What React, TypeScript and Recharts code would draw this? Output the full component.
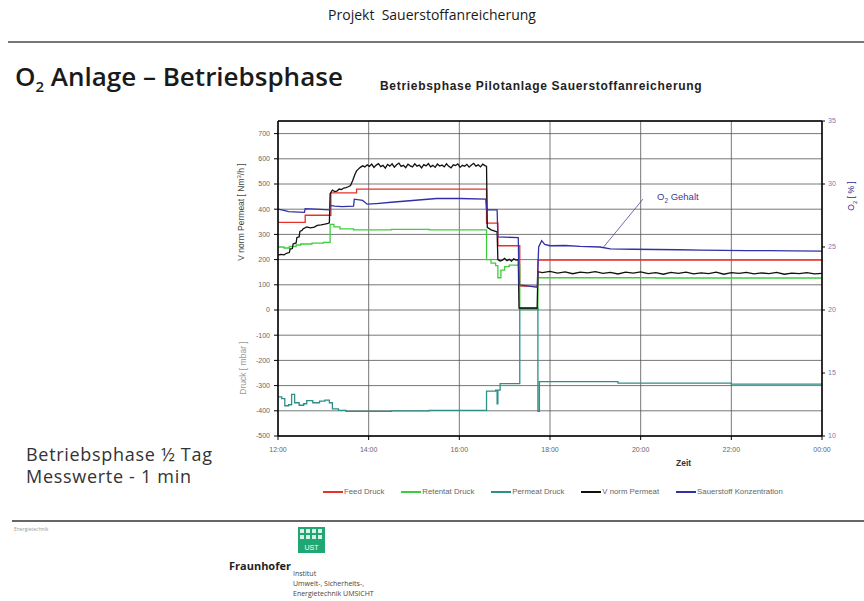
import React from 'react';
import {
  ComposedChart,
  Line,
  XAxis,
  YAxis,
  CartesianGrid,
  ReferenceLine,
} from 'recharts';

// time axis in minutes after 12:00
const zeitTicks = [0, 120, 240, 360, 480, 600, 720];
const zeitLabels = ['12:00', '14:00', '16:00', '18:00', '20:00', '22:00', '00:00'];
const druckTicks = [-500, -400, -300, -200, -100, 0, 100, 200, 300, 400, 500, 600, 700];
const o2Ticks = [10, 15, 20, 25, 30, 35];

// [minute, mbar]
const feedDruck = [
  [0, 348], [36, 376], [70, 465], [104, 480], [276, 345], [291, 255],
  [320, 95], [344, 198], [720, 196],
];

const retentatDruck = [
  [0, 250], [8, 246], [15, 252], [24, 258], [30, 262], [45, 265], [60, 268],
  [69, 340], [74, 330], [82, 322], [100, 318], [150, 320], [200, 318],
  [276, 200], [282, 186], [288, 176], [291, 128], [295, 158], [300, 172],
  [306, 178], [320, 2], [344, 128], [500, 127], [720, 127],
];

const permeatDruck = [
  [0, -345], [5, -352], [9, -380], [14, -376], [18, -335], [22, -368],
  [28, -378], [34, -372], [38, -360], [46, -368], [55, -362], [62, -358],
  [68, -368], [72, -392], [80, -398], [90, -402], [150, -400], [200, -398],
  [276, -322], [288, -318], [290, -372], [291, -318], [294, -292], [320, 6],
  [344, -402], [346, -284], [450, -290], [600, -294], [720, -296],
];

// [minute, Nm3/h]
const vNormPermeat = [
  [0, 218], [4, 221], [8, 219], [12, 226], [15, 228], [16, 242], [19, 244],
  [20, 262], [24, 266], [25, 288], [28, 290], [29, 312], [32, 316], [33, 322],
  [38, 330], [43, 326], [48, 329], [52, 336], [57, 338], [62, 341], [66, 344],
  [68, 346], [69, 462], [72, 476], [75, 470], [78, 472], [81, 480], [84, 478],
  [87, 484], [90, 486], [93, 489], [96, 494], [99, 515], [102, 540], [104, 552],
  [106, 558], [109, 566], [112, 572], [115, 568], [118, 576], [121, 570],
  [124, 579], [127, 566], [130, 575], [133, 581], [136, 569], [139, 574],
  [142, 563], [145, 578], [148, 571], [151, 580], [154, 567], [157, 576],
  [160, 583], [163, 570], [166, 574], [169, 565], [172, 579], [175, 572],
  [178, 568], [181, 580], [184, 571], [187, 575], [190, 564], [193, 577],
  [196, 572], [199, 581], [202, 568], [205, 574], [208, 566], [211, 579],
  [214, 571], [217, 575], [220, 568], [223, 580], [226, 570], [229, 564],
  [232, 576], [235, 573], [238, 580], [241, 566], [244, 574], [247, 570],
  [250, 578], [253, 567], [256, 575], [259, 582], [262, 571], [265, 576],
  [268, 568], [271, 579], [274, 573], [276, 570], [277, 328], [282, 318],
  [288, 312], [290, 310], [291, 200], [294, 194], [297, 198], [300, 205],
  [303, 196], [306, 201], [309, 194], [312, 203], [315, 198], [318, 200],
  [319, 8], [343, 8], [344, 152], [350, 148], [360, 153], [370, 146],
  [380, 151], [390, 144], [400, 150], [410, 147], [420, 152], [430, 145],
  [440, 149], [450, 143], [460, 150], [470, 146], [480, 151], [490, 144],
  [500, 148], [510, 142], [520, 149], [530, 145], [540, 150], [550, 143],
  [560, 147], [570, 144], [580, 150], [590, 142], [600, 148], [610, 145],
  [620, 149], [630, 143], [640, 147], [650, 144], [660, 149], [670, 142],
  [680, 146], [690, 144], [700, 148], [710, 143], [720, 145],
];

// [minute, % O2]
const sauerstoff = [
  [0, 28.0], [8, 27.9], [14, 27.8], [35, 27.75], [36, 28.05], [50, 28.0],
  [68, 27.95], [69, 28.3], [75, 28.25], [85, 28.2], [100, 28.25], [101, 28.8],
  [112, 28.7], [118, 28.4], [130, 28.45], [150, 28.55], [170, 28.65],
  [190, 28.75], [210, 28.85], [240, 28.85], [275, 28.8], [276, 27.95],
  [290, 27.95], [291, 25.8], [318, 25.75], [319, 22.0], [332, 21.9],
  [343, 21.8], [345, 25.0], [349, 25.5], [353, 25.2], [360, 25.1],
  [380, 25.12], [400, 25.05], [426, 25.0], [440, 24.85], [470, 24.82],
  [500, 24.8], [530, 24.78], [560, 24.75], [590, 24.74], [620, 24.72],
  [650, 24.71], [680, 24.7], [720, 24.68],
];

const toRows = (pts: number[][]) => pts.map(([t, v]) => ({ t, v }));

const series = [
  { name: 'Feed Druck', pts: feedDruck, color: '#e5322d', axis: 'left', curve: 'stepAfter' },
  { name: 'Retentat Druck', pts: retentatDruck, color: '#3ccf3c', axis: 'left', curve: 'stepAfter' },
  { name: 'Permeat Druck', pts: permeatDruck, color: '#2e8f86', axis: 'left', curve: 'stepAfter' },
  { name: 'V norm Permeat', pts: vNormPermeat, color: '#111111', axis: 'left', curve: 'linear' },
  { name: 'Sauerstoff Konzentration', pts: sauerstoff, color: '#3030a8', axis: 'right', curve: 'linear' },
];

const tickFont = { fontSize: 7, fill: '#666', fontFamily: 'Liberation Sans, Arial, sans-serif' };

const abs = (left: number, top: number): React.CSSProperties => ({
  position: 'absolute',
  left,
  top,
  whiteSpace: 'nowrap',
});

const rotated = (cx: number, cy: number, deg: number): React.CSSProperties => ({
  position: 'absolute',
  left: cx,
  top: cy,
  transform: `translate(-50%, -50%) rotate(${deg}deg)`,
  whiteSpace: 'nowrap',
});

const FraunhoferMark = () => (
  <svg width={27} height={26} style={abs(298, 527)}>
    <rect x={0} y={0} width={27} height={26} fill="#1fa774" />
    {[0, 1, 2, 3].map((c) =>
      [0, 1].map((r) => (
        <rect key={`${c}-${r}`} x={2 + c * 6} y={2 + r * 6} width={4} height={4} fill="#d8f3e6" />
      ))
    )}
    <text x={13.5} y={23} textAnchor="middle" fontSize={7} fill="#fff" fontFamily="Liberation Sans, Arial">
      UST
    </text>
  </svg>
);

export default function App() {
  return (
    <div
      style={{
        position: 'absolute',
        left: 0,
        top: 0,
        width: 864,
        height: 601,
        background: '#fff',
        fontFamily: '"Open Sans", "Noto Sans", sans-serif',
        color: '#222',
        overflow: 'hidden',
      }}
    >
      <div style={{ ...abs(0, 5), width: 864, textAlign: 'center', fontSize: 14, fontWeight: 500, color: '#1a1a1a' }}>
        Projekt&nbsp; Sauerstoffanreicherung
      </div>
      <div style={{ position: 'absolute', left: 8, top: 41, width: 856, height: 2, background: '#777' }} />

      <div style={{ ...abs(15, 58), fontSize: 26, fontWeight: 600, color: '#1a1a1a' }}>
        O<sub style={{ fontSize: 15 }}>2</sub> Anlage – Betriebsphase
      </div>
      <div
        style={{
          ...abs(380, 79),
          fontSize: 12,
          letterSpacing: 0.7,
          fontWeight: 700,
          fontFamily: '"Liberation Sans", Arial, sans-serif',
          color: '#222',
        }}
      >
        Betriebsphase Pilotanlage Sauerstoffanreicherung
      </div>

      <div style={{ position: 'absolute', left: 200, top: 100 }}>
        <ComposedChart width={664} height={400} margin={{ top: 21, right: 0, bottom: 0, left: 0 }}>
          <CartesianGrid yAxisId="left" stroke="#555" strokeWidth={0.8} />
          <XAxis
            dataKey="t"
            type="number"
            domain={[0, 720]}
            ticks={zeitTicks}
            allowDuplicatedCategory={false}
            tickFormatter={(v: number) => zeitLabels[zeitTicks.indexOf(v)] ?? ''}
            tick={tickFont}
            tickSize={4}
            tickMargin={7}
            height={64}
            axisLine={{ stroke: '#000', strokeWidth: 1.5 }}
            tickLine={{ stroke: '#000' }}
          />
          <YAxis
            yAxisId="left"
            type="number"
            domain={[-500, 750]}
            ticks={druckTicks}
            allowDataOverflow
            tick={tickFont}
            tickSize={4}
            tickMargin={4}
            width={78}
            axisLine={{ stroke: '#000', strokeWidth: 1.5 }}
            tickLine={{ stroke: '#000' }}
          />
          <YAxis
            yAxisId="right"
            orientation="right"
            type="number"
            domain={[10, 35]}
            ticks={o2Ticks}
            allowDataOverflow
            tick={{ ...tickFont, fill: '#7a7ab8' }}
            tickSize={3}
            tickMargin={3}
            width={42}
            axisLine={{ stroke: '#000', strokeWidth: 1.5 }}
            tickLine={{ stroke: '#000' }}
          />
          <ReferenceLine yAxisId="left" y={750} stroke="#000" strokeWidth={1.5} />
          {series.map((s) => (
            <Line
              key={s.name}
              data={toRows(s.pts)}
              dataKey="v"
              name={s.name}
              yAxisId={s.axis}
              type={s.curve as 'linear' | 'stepAfter'}
              stroke={s.color}
              strokeWidth={1.3}
              dot={false}
              activeDot={false}
              isAnimationActive={false}
            />
          ))}
          <ReferenceLine
            yAxisId="right"
            segment={[
              { x: 431, y: 25.0 },
              { x: 483, y: 28.8 },
            ]}
            stroke="#4a4a9a"
            strokeWidth={0.8}
          />
        </ComposedChart>
      </div>

      {/* axis titles */}
      <div style={{ ...rotated(241, 212, -90), fontSize: 8.5, color: '#444', fontFamily: 'Liberation Sans, Arial' }}>
        V norm Permeat [ Nm<sup style={{ fontSize: 6 }}>3</sup>/h ]
      </div>
      <div style={{ ...rotated(243, 368, -90), fontSize: 8.5, color: '#999', fontFamily: 'Liberation Sans, Arial' }}>
        Druck [ mbar ]
      </div>
      <div style={{ ...rotated(852, 196, -90), fontSize: 8.5, color: '#2b2b8e', fontFamily: 'Liberation Sans, Arial' }}>
        O<sub style={{ fontSize: 6 }}>2</sub> [ % ]
      </div>
      <div style={{ ...abs(676, 458), fontSize: 8.5, fontWeight: 700, color: '#333', fontFamily: 'Liberation Sans, Arial' }}>
        Zeit
      </div>
      <div style={{ ...abs(657, 191), fontSize: 9.5, color: '#3a3aa0', fontFamily: 'Liberation Sans, Arial' }}>
        O<sub style={{ fontSize: 6.5 }}>2</sub> Gehalt
      </div>

      {/* legend */}
      <div
        style={{
          ...abs(323, 487),
          display: 'flex',
          gap: 17,
          fontSize: 7.8,
          color: '#666',
          fontFamily: 'Liberation Sans, Arial',
          alignItems: 'center',
        }}
      >
        {series.map((s) => (
          <div key={s.name} style={{ display: 'flex', alignItems: 'center', gap: 1 }}>
            <div style={{ width: 20, height: 2, background: s.color }} />
            <span>{s.name}</span>
          </div>
        ))}
      </div>

      <div style={{ ...abs(26, 443), fontSize: 18, letterSpacing: 0.7, color: '#333', lineHeight: '22px' }}>
        Betriebsphase ½ Tag
        <br />
        Messwerte - 1 min
      </div>

      {/* footer */}
      <div style={{ position: 'absolute', left: 12, top: 520, width: 852, height: 2, background: '#666' }} />
      <div style={{ ...abs(14, 526), fontSize: 5, color: '#999' }}>Energietechnik</div>
      <FraunhoferMark />
      <div style={{ ...abs(229, 558), fontSize: 11, fontWeight: 700, color: '#222' }}>Fraunhofer</div>
      <div style={{ ...abs(293, 569), fontSize: 7, color: '#444', lineHeight: '10px' }}>
        Institut
        <br />
        Umwelt-, Sicherheits-,
        <br />
        Energietechnik UMSICHT
      </div>
    </div>
  );
}
